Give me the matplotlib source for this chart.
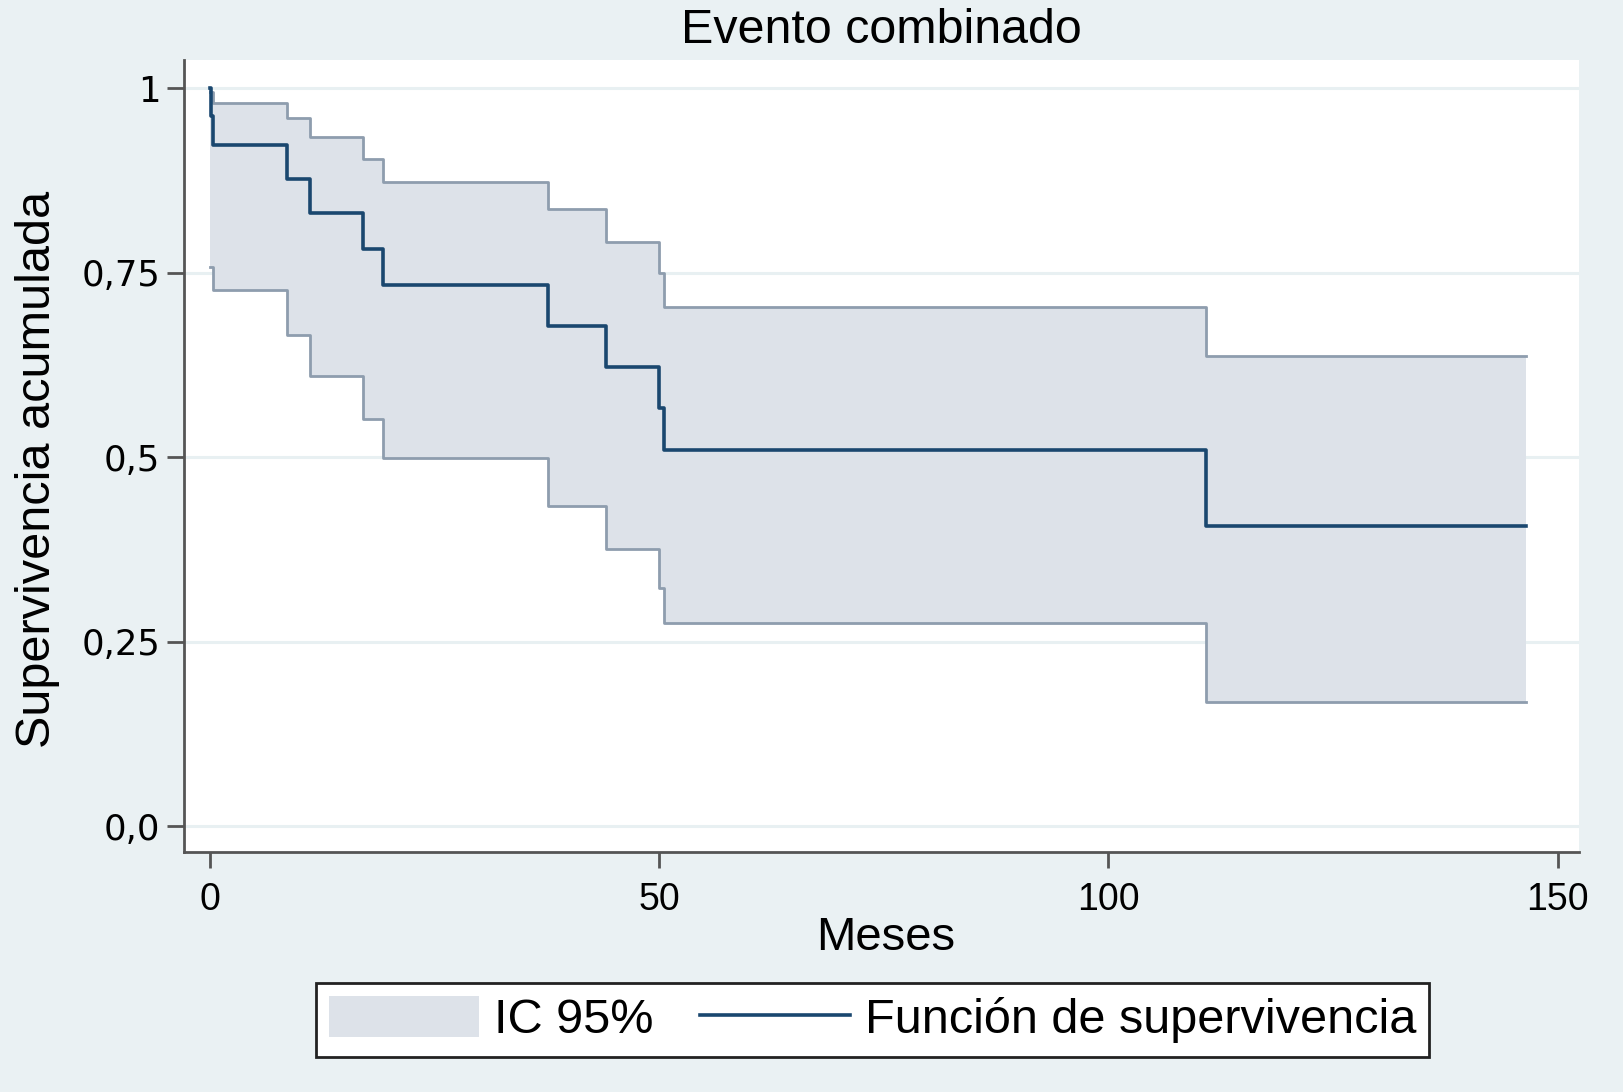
import matplotlib
matplotlib.use('Agg')
import matplotlib.pyplot as plt
from matplotlib.patches import Patch
from matplotlib.lines import Line2D

plt.rcParams['font.family'] = ['Liberation Sans', 'DejaVu Sans']

# Kaplan-Meier steps (months, cumulative survival)
km_t = [0, 0.15, 0.35, 8.6, 11.1, 17.0, 19.3, 37.6, 44.1, 50.0, 50.5, 110.9, 146.5]
km_s = [1.0, 0.962, 0.923, 0.877, 0.831, 0.782, 0.733, 0.678, 0.622, 0.566, 0.509, 0.407, 0.407]

# 95% confidence band
ci_t = [0.05, 0.35, 8.6, 11.1, 17.0, 19.3, 37.6, 44.1, 50.0, 50.5, 110.9, 146.5]
ci_hi = [0.995, 0.980, 0.960, 0.934, 0.904, 0.873, 0.836, 0.792, 0.749, 0.703, 0.637, 0.637]
ci_lo = [0.758, 0.727, 0.666, 0.610, 0.551, 0.499, 0.434, 0.376, 0.323, 0.275, 0.168, 0.168]

x_ticks = [0, 50, 100, 150]
y_ticks = [0, 0.25, 0.5, 0.75, 1]
y_labels = ['0,0', '0,25', '0,5', '0,75', '1']

bg = '#EAF1F3'
band = '#DDE2E9'
band_edge = '#8E9DAE'
navy = '#1A476F'
axis_col = '#555555'

fig = plt.figure(figsize=(16.23, 10.92), dpi=100, facecolor=bg)
ax = fig.add_axes([0.1134, 0.2198, 0.8596, 0.7253])
ax.set_facecolor('white')

ax.fill_between(ci_t, ci_lo, ci_hi, step='post', color=band, lw=0, zorder=2)
ax.plot(ci_t, ci_hi, drawstyle='steps-post', color=band_edge, lw=2.0, zorder=3)
ax.plot(ci_t, ci_lo, drawstyle='steps-post', color=band_edge, lw=2.0, zorder=3)
ax.plot(km_t, km_s, drawstyle='steps-post', color=navy, lw=2.6, zorder=4)

ax.set_xlim(-2.88, 152.4)
ax.set_ylim(-0.035, 1.038)
ax.set_xticks(x_ticks)
ax.set_yticks(y_ticks)
ax.set_yticklabels(y_labels, family='DejaVu Sans')

ax.yaxis.grid(True, color='#E8F0F2', lw=2.2)
ax.set_axisbelow(True)

for s in ['top', 'right']:
    ax.spines[s].set_visible(False)
for s in ['left', 'bottom']:
    ax.spines[s].set_color(axis_col)
    ax.spines[s].set_linewidth(2)

ax.tick_params(axis='x', length=11.5, width=2, color=axis_col, pad=10, labelsize=27)
ax.tick_params(axis='y', length=12, width=2, color=axis_col, pad=5, labelsize=25.5)

ax.set_title('Evento combinado', fontsize=34.8, pad=12.5)
ax.set_xlabel('Meses', fontsize=34, va='baseline')
ax.xaxis.set_label_coords(0.503, -0.124)
ax.set_ylabel('Supervivencia acumulada', fontsize=35)
ax.yaxis.set_label_coords(-0.089, 0.4836)

handles = [Patch(facecolor=band, edgecolor='none'),
           Line2D([0], [0], color=navy, lw=2.6)]
leg = fig.legend(handles, ['IC 95%', 'Función de supervivencia'], ncol=2,
                 loc='center', bbox_to_anchor=(0.5376, 0.066), fontsize=35,
                 handlelength=3.1, handleheight=0.9, handletextpad=0.3,
                 columnspacing=0.95, borderpad=0.27, fancybox=False,
                 framealpha=1, edgecolor='#222222')
leg.get_frame().set_linewidth(2)

fig.savefig('out.png', dpi=100, facecolor=bg)
